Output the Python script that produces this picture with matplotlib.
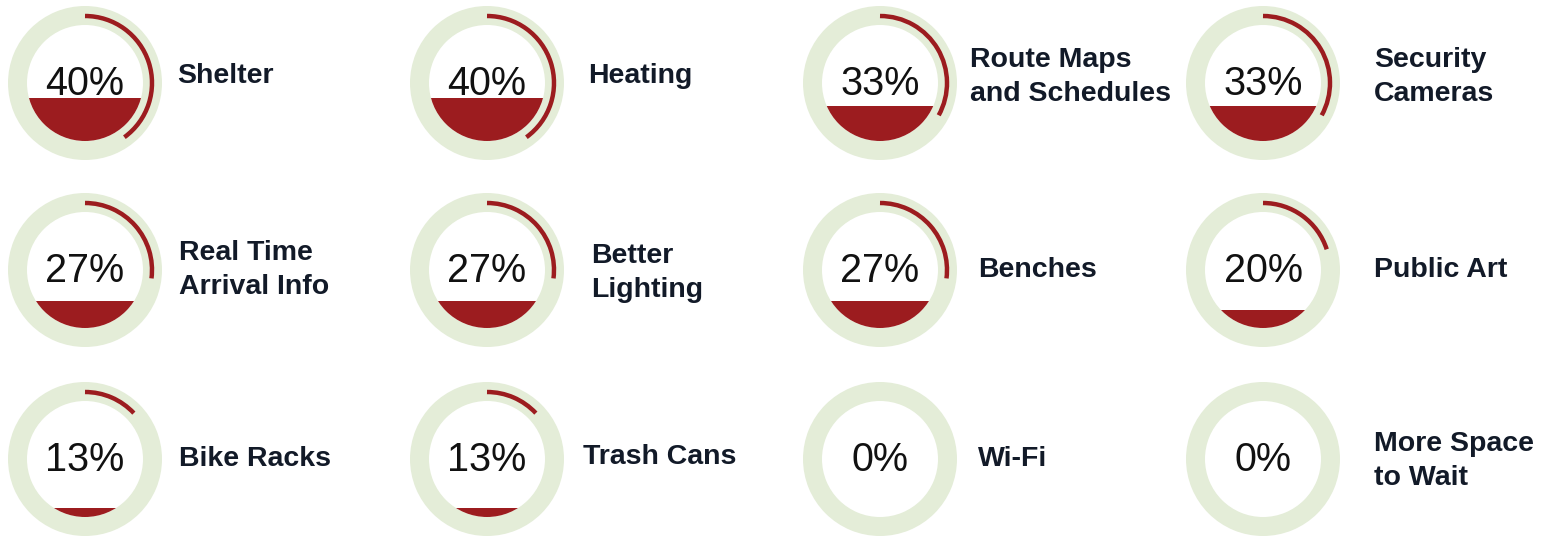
import matplotlib
matplotlib.use("Agg")
import matplotlib.pyplot as plt
from matplotlib.patches import Wedge, Circle, Rectangle, Arc

# survey results: share of riders asking for each amenity
labels = ["Shelter", "Heating", "Route Maps\nand Schedules", "Security\nCameras",
          "Real Time\nArrival Info", "Better\nLighting", "Benches", "Public Art",
          "Bike Racks", "Trash Cans", "Wi-Fi", "More Space\nto Wait"]
values = [40, 40, 33, 33, 27, 27, 27, 20, 13, 13, 0, 0]

# layout (pixels)
W, H = 1553, 538
col_x = [85, 487, 880, 1263]
row_y = [83, 270, 459]
label_x = [177, 588, 970, 1374, 179, 591, 978, 1374, 179, 583, 978, 1374]
label_y = [76, 76, 77, 77, 270, 273, 270, 270, 459, 457, 459, 461]

R_OUT = 77
R_IN = 58
R_ARC = 67

# fill height as a share of the inner diameter
FILL_GAIN = 1.1
FILL_OFFSET = 0.065

RING = "#e4edd8"
RED = "#9c1c1f"
INK = "#121a28"

fig = plt.figure(figsize=(W / 100, H / 100), dpi=100)
ax = fig.add_axes([0, 0, 1, 1])
ax.set_xlim(0, W)
ax.set_ylim(H, 0)
ax.set_aspect("equal")
ax.axis("off")

for i, (lab, v) in enumerate(zip(labels, values)):
    cx = col_x[i % 4]
    cy = row_y[i // 4]

    ax.add_patch(Wedge((cx, cy), R_OUT, 0, 360, width=R_OUT - R_IN,
                       facecolor=RING, edgecolor="none"))

    # liquid-style fill from the bottom of the inner disk
    h = max(FILL_GAIN * v / 100 - FILL_OFFSET, 0)
    if h > 0:
        level = cy + R_IN - h * 2 * R_IN
        clip = Circle((cx, cy), R_IN, transform=ax.transData)
        fill = Rectangle((cx - R_IN, level), 2 * R_IN, cy + R_IN - level,
                         facecolor=RED, edgecolor="none")
        ax.add_patch(fill)
        fill.set_clip_path(clip)

    # progress arc, clockwise from 12 o'clock (y axis is inverted)
    if v > 0:
        ax.add_patch(Arc((cx, cy), 2 * R_ARC, 2 * R_ARC, theta1=-90,
                         theta2=-90 + 3.6 * v, color=RED, lw=3.2,
                         capstyle="butt"))

    ax.text(cx, cy + 1, f"{v}%", ha="center", va="center", fontsize=28.5,
            family="Liberation Sans", color="#111111")
    ax.text(label_x[i], label_y[i], lab, ha="left", va="center", fontsize=20.5,
            family="Liberation Sans", weight="bold", color=INK,
            linespacing=1.4)

fig.savefig("out.png", dpi=100, facecolor="white")
